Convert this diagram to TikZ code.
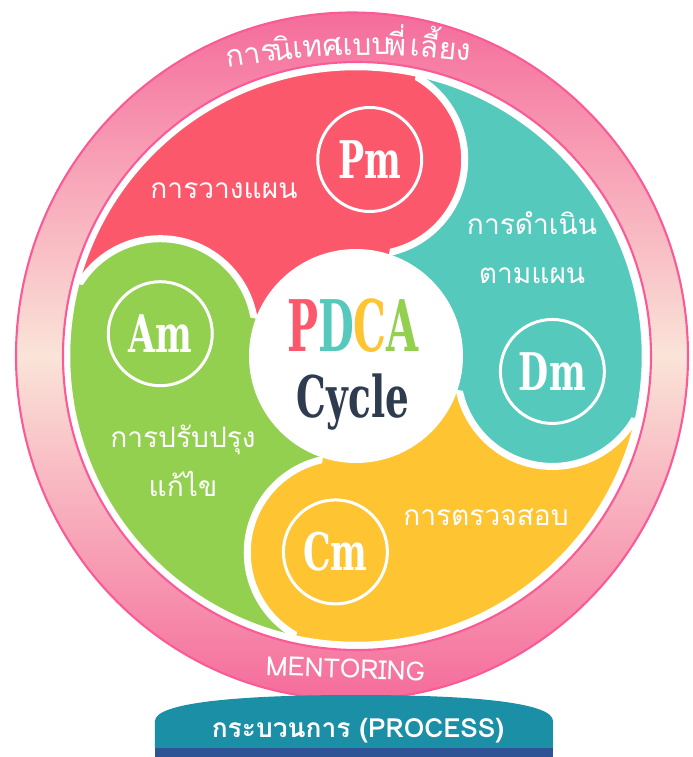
\documentclass[tikz,border=0pt]{standalone}
\usepackage{fontspec}
\usepackage{graphicx}
\newfontfamily\thaifont[Script=Thai]{Loma}
\newfontfamily\slabfont{DejaVu Serif}
\definecolor{pmred}{RGB}{252,88,107}
\definecolor{dmteal}{RGB}{85,201,188}
\definecolor{cmyellow}{RGB}{254,196,50}
\definecolor{amgreen}{RGB}{147,208,80}
\definecolor{cyclenavy}{RGB}{47,60,80}
\definecolor{ringpink}{RGB}{245,108,155}
\definecolor{ringpale}{RGB}{250,228,216}
\definecolor{ringline}{RGB}{250,90,150}
\definecolor{procteal}{RGB}{26,143,165}
\definecolor{procblue}{RGB}{46,84,150}
\newcommand{\narrowtext}[2]{\scalebox{#1}[1]{\slabfont\bfseries #2}}
\newcommand{\sectorpath}[2]{(0,0) -- (#1-14:2.14) -- (#1-8:5.74) -- (#1-8:9) -- ({(#1+#2)/2}:12) -- (#2-8:9) -- (#2-8:5.74) -- (#2-14:2.14) -- cycle}

\begin{document}
\begin{tikzpicture}[x=1cm, y=1cm,
  badge/.style={circle, draw=white, line width=1.7pt, minimum size=2.08cm, inner sep=0pt, text=white, font=\fontsize{29.5}{29.5}\selectfont},
  lbl/.style={text=white, font=\thaifont\fontsize{16}{28}\selectfont, align=center},
  arctext/.style={text=white, font=\thaifont\fontsize{17}{17}\selectfont, anchor=base, inner sep=0pt}]
\useasboundingbox (-7.12,-8.02) rectangle (6.74,7.12);

% pink ring
\shade[top color=ringpink, bottom color=ringpink, middle color=ringpale] (-0.08,0) ellipse [x radius=6.72, y radius=6.87];
\fill[white] (0.02,0) circle (5.88);
\draw[ringline, line width=1.2pt] (-0.08,0) ellipse [x radius=6.72, y radius=6.87];
\draw[ringline, line width=1.2pt] (0.02,0) circle (5.88);

% four swirl sectors, then the lobes on top
\begin{scope}
\clip (0,0) circle (5.74);
\foreach \a/\b/\c in {86/173.5/pmred, -4.5/86/dmteal, -96/-4.5/cmyellow, 173.5/266/amgreen}
  \fill[\c] \sectorpath{\a}{\b};
\foreach \a/\b/\d in {86/173.5/amgreen, -4.5/86/pmred, -96/-4.5/dmteal, 173.5/266/cmyellow}{
  \fill[\d] (\b:3.94) circle (1.9);
  \begin{scope}
    \clip \sectorpath{\a}{\b};
    \draw[white, line width=4pt] (\b:3.94) circle (1.9);
  \end{scope}
}
\end{scope}
\draw[white, line width=2pt] (0,0) circle (5.75);

% centre
\node[circle, fill=white, minimum size=4.28cm, inner sep=0pt] (hub) at (0,0) {};
\node[anchor=base, font=\fontsize{40.5}{40.5}\selectfont] (pdca) at (-0.06,0.10) {\narrowtext{0.58}{\color{pmred}P\color{dmteal}D\color{cmyellow}C\color{amgreen}A}};
\node[anchor=base, text=cyclenavy, font=\fontsize{32.7}{32.7}\selectfont] (cycle) at (-0.06,-1.22) {\narrowtext{0.65}{Cycle}};

% badges
\node[badge] (pm) at (86:3.94) {\narrowtext{0.67}{Pm}};
\node[badge] (dm) at (-4.5:3.94) {\narrowtext{0.67}{Dm}};
\node[badge] (cm) at (-96:3.94) {\narrowtext{0.67}{Cm}};
\node[badge] (am) at (173.5:3.94) {\narrowtext{0.67}{Am}};

% sector labels
\node[lbl, anchor=base] (plan) at (-2.64,3.16) {การวางแผน};
\node[lbl] (do) at (3.52,2.16) {การดำเนิน\\ตามแผน};
\node[lbl, anchor=base] (check) at (2.60,-3.38) {การตรวจสอบ};
\node[lbl] (act) at (-3.46,-2.10) {การปรับปรุง\\แก้ไข};

% ring texts
\node[arctext, rotate=9] (t1) at (-2.06,5.84) {การ};
\node[arctext, rotate=6.6] (t2) at (-1.44,5.92) {นิ};
\node[arctext, rotate=4] (t3) at (-0.76,5.98) {เทศ};
\node[arctext, rotate=0.6] (t4) at (0.12,6.02) {แบบ};
\node[arctext, rotate=-2] (t5) at (0.80,6.01) {พี่};
\node[arctext, rotate=-5.4] (t6) at (1.68,5.95) {เลี้ยง};
\node[text=white, font=\thaifont\fontsize{15}{15}\selectfont, anchor=base, rotate=-2] (mentor) at (-0.22,-6.44) {MENTORING};

% process banner
\fill[procteal] (-4.02,-7.84) -- (-4.02,-7.3) .. controls (-4.02,-6.95) and (-2.5,-6.78) .. (0,-6.78) .. controls (2.5,-6.78) and (3.94,-6.95) .. (3.94,-7.3) -- (3.94,-7.84) -- cycle;
\fill[procblue] (-4.02,-8.02) rectangle (3.94,-7.84);
\node[text=white, font=\thaifont\bfseries\fontsize{15}{15}\selectfont, anchor=base] (process) at (0.04,-7.62) {กระบวนการ (PROCESS)};
\end{tikzpicture}
\end{document}
